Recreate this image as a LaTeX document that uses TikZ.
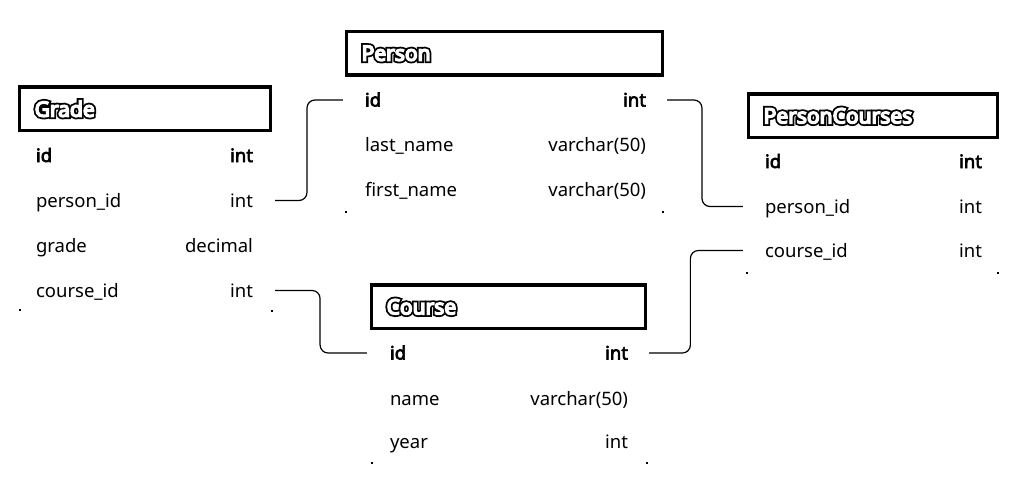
\documentclass[tikz,border=0pt]{standalone}
\usepackage{fontspec}
\setmainfont{Noto Sans}
\newfontfamily\notobold{Noto Sans}[FakeBold=3.5]
\newfontfamily\ttlblack{Noto Sans}[FakeBold=24]
\newfontfamily\ttlwhite{Noto Sans}[FakeBold=7]
\usetikzlibrary{calc}
\tikzset{
  rowbox/.style={draw=none, inner sep=0pt, minimum height=40pt},
  namet/.style={anchor=west, inner sep=0pt, text height=13pt, text depth=0pt, font=\fontsize{18.5}{20}\selectfont},
  typet/.style={anchor=east, inner sep=0pt, text height=13pt, text depth=0pt, font=\fontsize{18.5}{20}\selectfont},
  keyt/.style={font=\notobold\fontsize{18.5}{20}\selectfont},
  titlebox/.style={draw=black, line width=3.3pt, inner xsep=15pt, inner ysep=0pt, minimum height=43.5pt, align=left, font=\fontsize{21}{22}\selectfont},
  conn/.style={draw=black, line width=1.2pt, rounded corners=8pt},
  cornerdot/.style={fill=black, minimum size=1.5pt, inner sep=0pt}
}
\newcommand{\ttl}[1]{\makebox[0pt][l]{\ttlblack\color{black}#1}{\ttlwhite\color{white}#1}}
\begin{document}
\begin{tikzpicture}[x=1pt,y=-1pt]
\useasboundingbox[fill=white] (0,0) rectangle (1024,495);

% ---------- Grade (L=18, R=272)
\node[titlebox, text width=220.7pt] (g-title) at (145,108.8) {\ttl{Grade}};
\node[rowbox, minimum width=254pt] (g-id)  at (145,155.5) {};
\node[rowbox, minimum width=254pt] (g-pid) at (145,200.5) {};
\node[rowbox, minimum width=254pt] (g-gr)  at (145,245.5) {};
\node[rowbox, minimum width=254pt] (g-cid) at (145,290.5) {};
\node[namet, keyt] (g-id-n) at ([xshift=18pt]g-id.west) {id};
\node[typet, keyt] (g-id-t) at ([xshift=-19pt]g-id.east) {int};
\node[namet] (g-pid-n) at ([xshift=18pt]g-pid.west) {person\_id};
\node[typet] (g-pid-t) at ([xshift=-19pt]g-pid.east) {int};
\node[namet] (g-gr-n) at ([xshift=18pt]g-gr.west) {grade};
\node[typet] (g-gr-t) at ([xshift=-19pt]g-gr.east) {decimal};
\node[namet] (g-cid-n) at ([xshift=18pt]g-cid.west) {course\_id};
\node[typet] (g-cid-t) at ([xshift=-19pt]g-cid.east) {int};
\node[cornerdot] (g-dl) at (20,310) {};
\node[cornerdot] (g-dr) at (272,311) {};

% ---------- Person (L=345, R=664)
\node[titlebox, text width=285.7pt] (p-title) at (504.5,53.3) {\ttl{Person}};
\node[rowbox, minimum width=319pt] (p-id) at (504.5,100) {};
\node[rowbox, minimum width=319pt] (p-ln) at (504.5,145) {};
\node[rowbox, minimum width=319pt] (p-fn) at (504.5,190) {};
\node[namet, keyt] (p-id-n) at ([xshift=20pt]p-id.west) {id};
\node[typet, keyt] (p-id-t) at ([xshift=-18pt]p-id.east) {int};
\node[namet] (p-ln-n) at ([xshift=20pt]p-ln.west) {last\_name};
\node[typet] (p-ln-t) at ([xshift=-18pt]p-ln.east) {varchar(50)};
\node[namet] (p-fn-n) at ([xshift=20pt]p-fn.west) {first\_name};
\node[typet] (p-fn-t) at ([xshift=-18pt]p-fn.east) {varchar(50)};
\node[cornerdot] (p-dl) at (346,212) {};
\node[cornerdot] (p-dr) at (663,212) {};

% ---------- PersonCourses (L=747, R=999)
\node[titlebox, text width=218.7pt] (pc-title) at (873,115.8) {\ttl{PersonCourses}};
\node[rowbox, minimum width=252pt] (pc-id)  at (873,161.5) {};
\node[rowbox, minimum width=252pt] (pc-pid) at (873,206.5) {};
\node[rowbox, minimum width=252pt] (pc-cid) at (873,250.5) {};
\node[namet, keyt] (pc-id-n) at ([xshift=18pt]pc-id.west) {id};
\node[typet, keyt] (pc-id-t) at ([xshift=-17pt]pc-id.east) {int};
\node[namet] (pc-pid-n) at ([xshift=18pt]pc-pid.west) {person\_id};
\node[typet] (pc-pid-t) at ([xshift=-17pt]pc-pid.east) {int};
\node[namet] (pc-cid-n) at ([xshift=18pt]pc-cid.west) {course\_id};
\node[typet] (pc-cid-t) at ([xshift=-17pt]pc-cid.east) {int};
\node[cornerdot] (pc-dl) at (747,273) {};
\node[cornerdot] (pc-dr) at (998,273) {};

% ---------- Course (L=370, R=647)
\node[titlebox, text width=243.7pt] (c-title) at (508.5,306.8) {\ttl{Course}};
\node[rowbox, minimum width=277pt] (c-id) at (508.5,353) {};
\node[rowbox, minimum width=277pt] (c-nm) at (508.5,398.5) {};
\node[rowbox, minimum width=277pt] (c-yr) at (508.5,442) {};
\node[namet, keyt] (c-id-n) at ([xshift=20pt]c-id.west) {id};
\node[typet, keyt] (c-id-t) at ([xshift=-19pt]c-id.east) {int};
\node[namet] (c-nm-n) at ([xshift=20pt]c-nm.west) {name};
\node[typet] (c-nm-t) at ([xshift=-19pt]c-nm.east) {varchar(50)};
\node[namet] (c-yr-n) at ([xshift=20pt]c-yr.west) {year};
\node[typet] (c-yr-t) at ([xshift=-19pt]c-yr.east) {int};
\node[cornerdot] (c-dl) at (372,463) {};
\node[cornerdot] (c-dr) at (647,463) {};

% ---------- connectors
\coordinate (a1) at ([xshift=3pt]g-pid.east);
\coordinate (b1) at ([xshift=-2pt]p-id.west);
\coordinate (m1) at ($(a1)!0.47!(b1)$);
\draw[conn] (a1) -- (a1 -| m1) -- (b1 -| m1) -- (b1);

\coordinate (a2) at ([xshift=3pt]p-id.east);
\coordinate (b2) at ([xshift=-4pt]pc-pid.west);
\coordinate (m2) at ($(a2)!0.46!(b2)$);
\draw[conn] (a2) -- (a2 -| m2) -- (b2 -| m2) -- (b2);

\coordinate (a3) at ([xshift=3pt]g-cid.east);
\coordinate (b3) at ([xshift=-3pt]c-id.west);
\coordinate (m3) at ($(a3)!0.49!(b3)$);
\draw[conn] (a3) -- (a3 -| m3) -- (b3 -| m3) -- (b3);

\coordinate (a4) at ([xshift=2pt]c-id.east);
\coordinate (b4) at ([xshift=-4pt]pc-cid.west);
\coordinate (m4) at ($(a4)!0.44!(b4)$);
\draw[conn] (a4) -- (a4 -| m4) -- (b4 -| m4) -- (b4);
\end{tikzpicture}
\end{document}
